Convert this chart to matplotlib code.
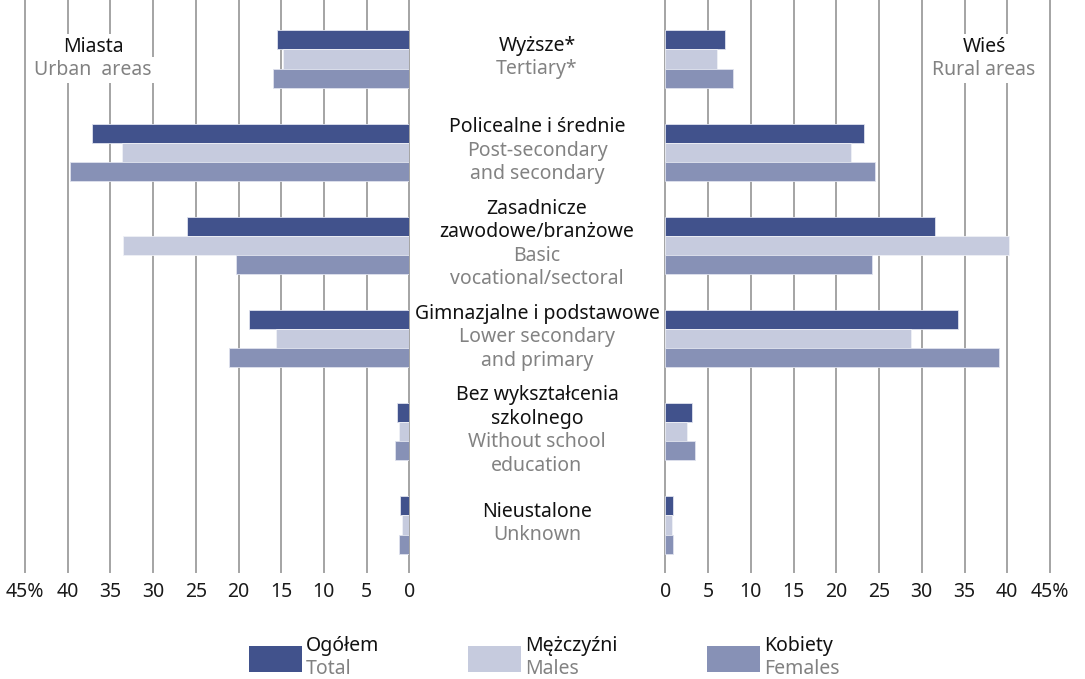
import matplotlib.pyplot as plt
from matplotlib.patches import Rectangle
from matplotlib.transforms import blended_transform_factory
import numpy as np

plt.rcParams['font.family'] = ['Noto Sans', 'DejaVu Sans']

# education levels (Polish / English captions)
levels_pl = ['Wyższe*', 'Policealne i średnie', 'Zasadnicze\nzawodowe/branżowe',
             'Gimnazjalne i podstawowe', 'Bez wykształcenia\nszkolnego', 'Nieustalone']
levels_en = ['Tertiary*', 'Post-secondary\nand secondary', 'Basic\nvocational/sectoral',
             'Lower secondary\nand primary', 'Without school\neducation', 'Unknown']

# shares in %, urban areas
urban_total = [15.5, 37.1, 26.0, 18.8, 1.4, 1.1]
urban_males = [14.8, 33.6, 33.5, 15.6, 1.2, 0.9]
urban_females = [16.0, 39.7, 20.3, 21.1, 1.7, 1.2]

# shares in %, rural areas
rural_total = [7.0, 23.2, 31.6, 34.2, 3.1, 0.9]
rural_males = [6.0, 21.7, 40.2, 28.7, 2.5, 0.8]
rural_females = [7.9, 24.5, 24.2, 39.0, 3.5, 0.9]

ticks = [0, 5, 10, 15, 20, 25, 30, 35, 40, 45]
tick_labels = ['0', '5', '10', '15', '20', '25', '30', '35', '40', '45%']

c_total = '#41528c'
c_males = '#c6cbde'
c_females = '#8791b6'
grey_txt = '#828282'
grid_c = '#a4a4a4'
fs = 14

W, H = 1085, 679
fig = plt.figure(figsize=(W / 100, H / 100), dpi=100)
ax_l = fig.add_axes([25 / W, 1 - 572 / H, 384.3 / W, 572 / H])
ax_r = fig.add_axes([665.3 / W, 1 - 572 / H, 384.7 / W, 572 / H])

y = np.arange(len(levels_pl))
h = 0.205

for ax, tot, m, f in [(ax_l, urban_total, urban_males, urban_females),
                      (ax_r, rural_total, rural_males, rural_females)]:
    ax.barh(y - h, tot, height=h, color=c_total, edgecolor='#dfe2ee', linewidth=0.6)
    ax.barh(y, m, height=h, color=c_males, edgecolor='#eef0f6', linewidth=0.6)
    ax.barh(y + h, f, height=h, color=c_females, edgecolor='#dfe2ee', linewidth=0.6)
    ax.set_ylim(5.504, -0.633)
    ax.set_xticks(ticks)
    ax.set_xticklabels(tick_labels)
    ax.set_yticks([])
    ax.tick_params(axis='x', length=0, labelsize=fs, pad=7, labelcolor='#1a1a1a')
    ax.grid(axis='x', color=grid_c, linewidth=1.4)
    ax.set_axisbelow(True)
    for line in ax.get_xgridlines():
        line.set_clip_on(False)
    for s in ax.spines.values():
        s.set_visible(False)

ax_l.set_xlim(45, 0)
ax_r.set_xlim(0, 45)

# area captions with white box over the grid
for xc, pl, en in [(93, 'Miasta', 'Urban  areas'), (984, 'Wieś', 'Rural areas')]:
    fig.text(xc / W, 1 - 60 / H, ' \n ', ha='center', va='center', fontsize=fs,
             bbox=dict(facecolor='white', edgecolor='none', pad=0))
    fig.text(xc / W, 1 - 47 / H, pl, ha='center', va='center', fontsize=fs,
             color='#111111', bbox=dict(facecolor='white', edgecolor='none', pad=2))
    fig.text(xc / W, 1 - 70 / H, en, ha='center', va='center', fontsize=fs,
             color=grey_txt, bbox=dict(facecolor='white', edgecolor='none', pad=2))

# category labels between the panels
trans = blended_transform_factory(fig.transFigure, ax_r.transData)
step = 0.253
for i in range(len(levels_pl)):
    lines = [(t, '#111111') for t in levels_pl[i].split('\n')] + \
            [(t, grey_txt) for t in levels_en[i].split('\n')]
    n = len(lines)
    for k, (t, col) in enumerate(lines):
        fig.text(537 / W, y[i] + (k - (n - 1) / 2) * step - 0.015, t, transform=trans,
                 ha='center', va='center', fontsize=fs, color=col)

# legend
legend_items = [(249, c_total, 'Ogółem', 'Total'),
                (468, c_males, 'Mężczyźni', 'Males'),
                (707, c_females, 'Kobiety', 'Females')]
for x0, col, pl, en in legend_items:
    fig.add_artist(Rectangle((x0 / W, 1 - 672 / H), 53 / W, 26 / H,
                             transform=fig.transFigure, facecolor=col, edgecolor='none'))
    fig.text((x0 + 57) / W, 1 - 646 / H, pl, ha='left', va='center', fontsize=fs, color='#111111')
    fig.text((x0 + 57) / W, 1 - 669 / H, en, ha='left', va='center', fontsize=fs, color=grey_txt)

fig.savefig('out.png', dpi=100)
